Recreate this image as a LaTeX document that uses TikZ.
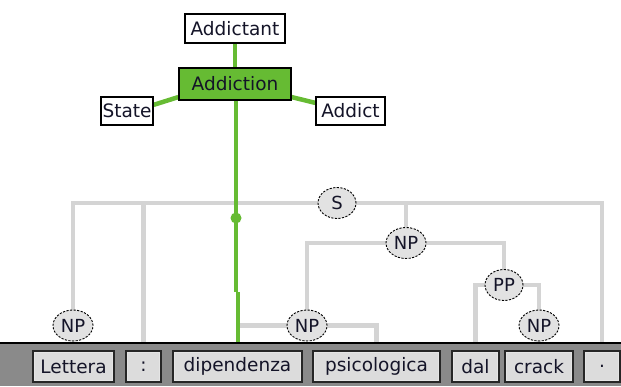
\documentclass[tikz,border=0pt]{standalone}
\usepackage{fontspec}
\setmainfont{DejaVu Sans}
\usetikzlibrary{shapes.geometric}
\definecolor{grn}{HTML}{66BB33}
\definecolor{lgray}{HTML}{D4D4D4}
\definecolor{bandc}{HTML}{8A8A8A}
\definecolor{boxf}{HTML}{DCDCDC}
\definecolor{ellf}{HTML}{E2E2E2}
\definecolor{txt}{HTML}{141428}
\pgfdeclarelayer{bg}
\pgfsetlayers{bg,main}
\begin{document}
\begin{tikzpicture}[x=1pt,y=-1pt,
 word/.style={draw=black!85, line width=1.5pt, fill=boxf, minimum height=31pt, inner sep=0pt, text=txt, font=\fontsize{18.5}{20}\selectfont,
   path picture={\draw[white!80!gray, line width=1.2pt] ([shift={(1.8pt,-1.8pt)}]path picture bounding box.north west) rectangle ([shift={(-1.8pt,1.8pt)}]path picture bounding box.south east);}},
 cat/.style={ellipse, draw=black, dash pattern=on 2.2pt off 1.4pt, line width=0.9pt, fill=ellf, minimum width=40pt, minimum height=31pt, inner sep=0pt, text=txt, font=\fontsize{18}{20}\selectfont},
 fbox/.style={draw=black, line width=1.4pt, fill=white, inner sep=0pt, minimum height=29pt, text=txt, font=\fontsize{18.5}{20}\selectfont},
 treeline/.style={draw=lgray, line width=4.5pt},
 headline/.style={draw=grn, line width=4.5pt}]
\useasboundingbox (0,0) rectangle (621,386);
% words
\node[word, minimum width=81pt] (w1) at (73.5,366.5) {Lettera};
\node[word, minimum width=35pt] (w2) at (143.5,366.5) {:};
\node[word, minimum width=129pt] (w3) at (237.5,366.5) {dipendenza};
\node[word, minimum width=127pt] (w4) at (376.5,366.5) {psicologica};
\node[word, minimum width=47pt] (w5) at (475.5,366.5) {dal};
\node[word, minimum width=68pt] (w6) at (539,366.5) {crack};
\node[word, minimum width=36pt] (w7) at (602,366.5) {.};
% categories
\node[cat, minimum width=38pt] (S) at (337,203) {S};
\node[cat] (NPa) at (406,243) {NP};
\node[cat, minimum width=38pt] (PP) at (504,285) {PP};
\node[cat] (NPc) at (539,325.5) {NP};
\node[cat] (NPd) at (307,325.5) {NP};
\node[cat] (NPl) at (73,325.5) {NP};
% frames
\node[fbox, minimum width=100pt] (Addictant) at (235,28.5) {Addictant};
\node[fbox, fill=grn, minimum width=112pt, minimum height=32pt] (Addiction) at (235,84) {Addiction};
\node[fbox, minimum width=52pt, minimum height=28pt] (State) at (127,111) {State};
\node[fbox, minimum width=69pt, minimum height=28pt] (Addict) at (350.5,111) {Addict};
\coordinate (dot) at (236,218);
\coordinate (jog1) at (236,292);
\coordinate (jog2) at (238,292);
\coordinate (jn) at (240,325.5);
\begin{pgfonlayer}{bg}
 \draw[treeline] (S.west) -| (NPl.north);
 \draw[treeline] (S.west -| w2.north) -- (w2.north);
 \draw[treeline] (S.east) -| (w7.north);
 \draw[treeline] (S.east -| NPa.north) -- (NPa.north);
 \draw[treeline] (NPa.west) -| (NPd.north);
 \draw[treeline] (NPa.east) -| (PP.north);
 \draw[treeline] (PP.west) -| (w5.north);
 \draw[treeline] (PP.east) -| (NPc.north);
 \draw[treeline] (NPc.south) -- (w6.north);
 \draw[treeline] (NPl.south) -- (w1.north);
 \draw[treeline] (jn) -| (w4.north);
 \draw[headline] (Addictant.south) -- (Addiction.north);
 \draw[headline] (Addiction.193) -- (State.13);
 \draw[headline] (Addiction.347) -- (Addict.167);
 \draw[headline] (Addiction.south -| dot) -- (dot) -- (jog1);
 \draw[headline] (jog2) -- (w3.north -| jog2);
 \fill[grn] (dot) circle (5.5pt);
 \fill[bandc] (0,343) rectangle (621,386);
 \draw[black, line width=1.5pt] (0,343) -- (621,343);
\end{pgfonlayer}
\end{tikzpicture}
\end{document}
